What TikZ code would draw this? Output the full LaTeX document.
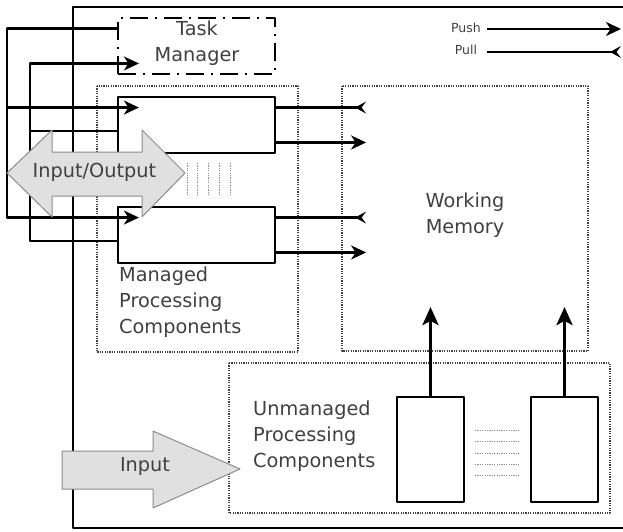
\documentclass[tikz,border=0pt]{standalone}
\usepackage{fontspec}
\setmainfont{DejaVu Sans}
\usetikzlibrary{calc, positioning, arrows.meta}

\begin{document}
\begin{tikzpicture}[
        x=1pt,
        y=-1pt,
        line join=round,
        font=\fontsize{19.3}{26}\selectfont,
        txt/.style={text=black!75, inner sep=0pt},
        wire/.style={line width=2.2pt},
        push/.style={wire, -{Stealth[length=15pt, width=14pt, inset=4.5pt]}},
        pull/.style={wire, -{Stealth[length=11pt, width=12pt, inset=4.5pt, reversed]}},
        lift/.style={line width=3pt, -{Stealth[length=18pt, width=16pt, inset=4pt]}},
        comp/.style={draw, line width=2.2pt, inner sep=0pt},
        frame/.style={draw=black!75, line width=2pt, dash pattern=on 1.2pt off 1.2pt},
        etc/.style={draw=black!45, line width=1pt, dash pattern=on 1.2pt off 1.2pt},
        bigarrow/.style={draw=black!45, fill=black!12, line width=1pt}
    ]

        \useasboundingbox (0,0) rectangle (623,531);

        % =================================
        % KHUNG NGOAI
        % =================================
        \draw[line width=2.2pt]
            (630,7) -- (73,7) -- (73,528) -- (630,528);


        % =================================
        % CAC KHOI
        % =================================

        % Task Manager
        \node[comp, dash pattern=on 18pt off 7pt on 2pt off 7pt,
              minimum width=157pt, minimum height=56pt] (tm) at (196.5,46) {};
        \node[txt, align=center] (tmlbl) at (197,43.5) {Task\\Manager};

        % Managed components
        \draw[frame] (97,86) rectangle (298,352);
        \node[comp, minimum width=157pt, minimum height=56pt] (c1) at (196.5,125) {};
        \node[comp, minimum width=157pt, minimum height=56pt] (c2) at (196.5,235) {};
        \node[txt, align=left, anchor=west] (mpclbl) at (119,302)
            {Managed\\Processing\\Components};

        % Working Memory
        \draw[frame] (342,86) rectangle (588,351);
        \node[txt, align=center] (wm) at (465,215) {Working\\Memory};

        % Unmanaged components
        \draw[frame] (229,363) rectangle (610,513);
        \node[comp, minimum width=67pt, minimum height=105pt] (u1) at (430.5,449.5) {};
        \node[comp, minimum width=67pt, minimum height=105pt] (u2) at (564.5,449.5) {};
        \node[txt, align=left, anchor=west] (upclbl) at (253,436)
            {Unmanaged\\Processing\\Components};


        % =================================
        % DAU NOI
        % =================================
        \coordinate (busL) at (7,0);
        \coordinate (busR) at (30,0);

        \coordinate (tmout) at ($(tm.north west)!0.2!(tm.south west)$);
        \coordinate (tmin)  at ($(tm.north west)!0.8!(tm.south west)+(22,0)$);
        \coordinate (c1in)  at ($(c1.north west)!0.2!(c1.south west)+(22,0)$);
        \coordinate (c2in)  at ($(c2.north west)!0.2!(c2.south west)+(22,0)$);
        \coordinate (c1out) at ($(c1.north west)!0.6!(c1.south west)$);
        \coordinate (c2out) at ($(c2.north west)!0.6!(c2.south west)$);

        % Task Manager -> components
        \draw[push]
            (tmout) -| (busL |- c2in) -- (c2in);
        \draw[push]
            (busL |- c1in) -- (c1in);

        % components -> Task Manager
        \draw[push]
            (c2out) -| (busR |- tmin) -- (tmin);
        \draw[wire]
            (c1out) -- (busR |- c1out);

        % components <-> Working Memory
        \draw[pull]
            ($(c1.north east)!0.2!(c1.south east)$) -- ++(90,0);
        \draw[push]
            ($(c1.north east)!0.8!(c1.south east)$) -- ++(90,0);
        \draw[pull]
            ($(c2.north east)!0.2!(c2.south east)$) -- ++(90,0);
        \draw[push]
            ($(c2.north east)!0.8!(c2.south east)$) -- ++(90,0);

        % unmanaged -> Working Memory
        \coordinate (wmin1) at (430.5,307);
        \coordinate (wmin2) at (564.5,307);
        \draw[lift] (u1.north) -- (wmin1);
        \draw[lift] (u2.north) -- (wmin2);


        % =================================
        % DAU BA CHAM
        % =================================
        \foreach \x in {187,197,208,219,230}
            \draw[etc] (\x,163) -- (\x,195);
        \foreach \y in {430,441,453,464,475}
            \draw[etc] (475,\y) -- (519,\y);


        % =================================
        % MUI TEN LON
        % =================================

        % Input/Output
        \draw[bigarrow]
            (7,173) -- (52,130) -- (52,152) -- (142,152) -- (142,130)
            -- (185,173) -- (142,217) -- (142,196) -- (52,196)
            -- (52,217) -- cycle;
        \node[txt] (io) at (94.5,172) {Input/Output};

        % Input
        \draw[bigarrow]
            (62,451) -- (153,451) -- (153,431) -- (240,469)
            -- (153,508) -- (153,489) -- (62,489) -- cycle;
        \node[txt] (inp) at (145,466) {Input};


        % =================================
        % CHU THICH
        % =================================
        \node[txt, font=\fontsize{12.5}{14}\selectfont] (lpush) at (466,28) {Push};
        \node[txt, font=\fontsize{12.5}{14}\selectfont] (lpull) at (466,50) {Pull};
        \coordinate (pushend) at (621,29);
        \coordinate (pullend) at (621,52);
        \draw[push] ($(lpush.east |- pushend)+(6,0)$) -- (pushend);
        \draw[pull] ($(lpull.east |- pullend)+(10,0)$) -- (pullend);

    \end{tikzpicture}
\end{document}
